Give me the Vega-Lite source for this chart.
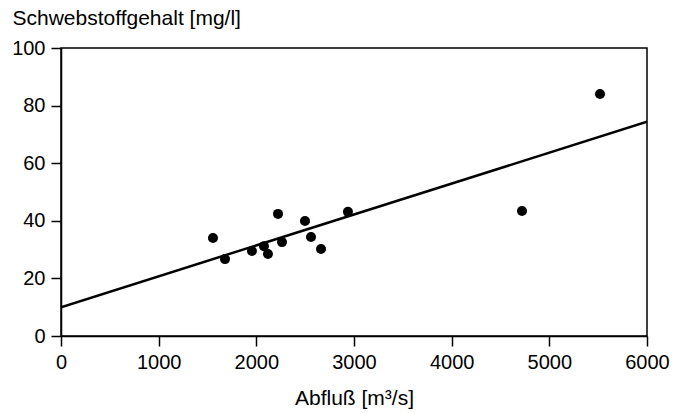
{
  "$schema": "https://vega.github.io/schema/vega-lite/v6.json",
  "width": 586,
  "height": 288,
  "autosize": {"type": "none"},
  "padding": {"left": 61, "top": 48, "right": 40, "bottom": 77},
  "background": "white",
  "config": {
    "font": "Liberation Sans",
    "view": {"stroke": "black", "strokeWidth": 1.5},
    "axis": {
      "grid": false,
      "domainColor": "black",
      "domainWidth": 1.5,
      "tickColor": "black",
      "tickWidth": 1.5,
      "tickSize": 10,
      "labelFont": "Liberation Sans",
      "labelFontSize": 20,
      "labelColor": "black",
      "titleFont": "Liberation Sans",
      "titleFontSize": 20,
      "titleFontWeight": "normal",
      "titleColor": "black"
    }
  },
  "datasets": {
    "points": [
      {"q": 1556, "s": 34.0},
      {"q": 1679, "s": 26.7},
      {"q": 1955, "s": 29.5},
      {"q": 2078, "s": 31.2},
      {"q": 2119, "s": 28.5},
      {"q": 2222, "s": 42.4},
      {"q": 2263, "s": 32.6},
      {"q": 2498, "s": 39.9},
      {"q": 2560, "s": 34.4},
      {"q": 2662, "s": 30.2},
      {"q": 2938, "s": 43.1},
      {"q": 4720, "s": 43.4},
      {"q": 5519, "s": 84.0}
    ],
    "fit": [
      {"q": 0, "s": 10.0},
      {"q": 6000, "s": 74.4}
    ]
  },
  "layer": [
    {
      "data": {"name": "fit"},
      "mark": {"type": "line", "color": "black", "strokeWidth": 2.5, "clip": true},
      "encoding": {
        "x": {
          "field": "q", "type": "quantitative",
          "scale": {"domain": [0, 6000], "nice": false},
          "axis": {
            "values": [0, 1000, 2000, 3000, 4000, 5000, 6000],
            "format": "d",
            "title": "Abfluß [m³/s]",
            "labelPadding": 6,
            "labelFlush": false,
            "titleBaseline": "alphabetic",
            "titleFontSize": 21,
            "titleY": 68
          }
        },
        "y": {
          "field": "s", "type": "quantitative",
          "scale": {"domain": [0, 100], "nice": false},
          "axis": {
            "values": [0, 20, 40, 60, 80, 100],
            "title": "Schwebstoffgehalt [mg/l]",
            "titleAngle": 0,
            "titleAlign": "left",
            "titleBaseline": "alphabetic",
            "titleFontSize": 21,
            "titleX": -49,
            "titleY": -24,
            "labelPadding": 6,
            "labelFlush": false
          }
        }
      }
    },
    {
      "data": {"name": "points"},
      "mark": {"type": "circle", "color": "black", "opacity": 1, "size": 100},
      "encoding": {
        "x": {"field": "q", "type": "quantitative"},
        "y": {"field": "s", "type": "quantitative"}
      }
    }
  ]
}
